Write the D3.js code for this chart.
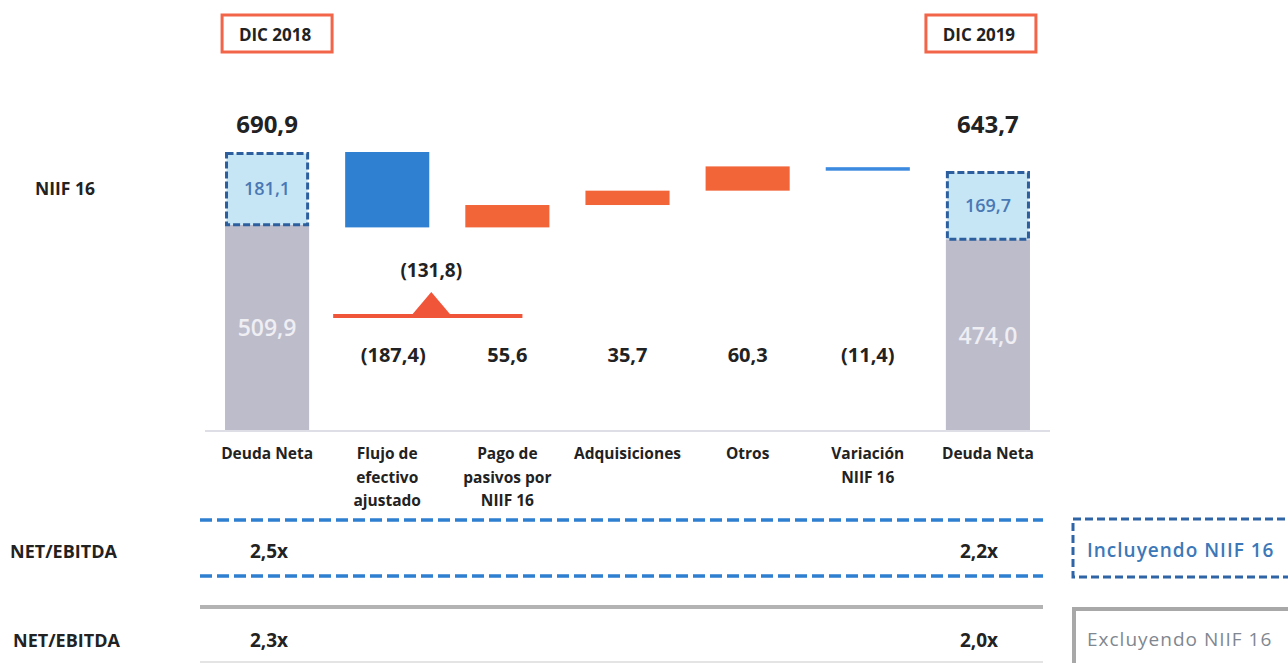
<!DOCTYPE html>
<html>
<head>
<meta charset="utf-8">
<script src="https://cdn.jsdelivr.net/npm/d3@7"></script>
<style>
  body { margin: 0; background: #fff; }
  svg { font-family: "Open Sans", Lato, sans-serif; }
</style>
</head>
<body>
<div class="chart"></div>
<script>
var svgWidth = 1288;
var svgHeight = 663;

// data
var categories = ["Deuda Neta 2018", "Flujo de efectivo ajustado", "Pago de pasivos por NIIF 16",
  "Adquisiciones", "Otros", "Variación NIIF 16", "Deuda Neta 2019"];
var categoryLabels = [["Deuda Neta"], ["Flujo de", "efectivo", "ajustado"], ["Pago de", "pasivos por", "NIIF 16"],
  ["Adquisiciones"], ["Otros"], ["Variación", "NIIF 16"], ["Deuda Neta"]];
var changes = [null, -187.4, 55.6, 35.7, 60.3, -11.4, null];
var changeLabels = ["", "(187,4)", "55,6", "35,7", "60,3", "(11,4)", ""];
var totalNiif = [181.1, 169.7];
var totalExNiif = [509.9, 474.0];
var totalLabels = ["690,9", "643,7"];
var niifLabels = ["181,1", "169,7"];
var exNiifLabels = ["509,9", "474,0"];
var periodLabels = ["DIC 2018", "DIC 2019"];
var ratioIncl = ["2,5x", "2,2x"];
var ratioExcl = ["2,3x", "2,0x"];
var annotationLabel = "(131,8)";

var svg = d3.select(".chart")
  .append("svg")
  .attr("width", svgWidth)
  .attr("height", svgHeight);

// scales
var x = d3.scaleBand()
  .domain(categories)
  .range([207, 1048])
  .paddingInner(0.3)
  .paddingOuter(0.15);

var y = d3.scaleLinear()
  .domain([0, totalNiif[0] + totalExNiif[0]])
  .range([430, 152]);

// build waterfall steps
var running = totalNiif[0] + totalExNiif[0];
var steps = [];
changes.forEach(function(c, i) {
  if (c === null) return;
  var start = running;
  running = running + c;
  steps.push({ cat: categories[i], start: start, end: running, value: c, label: changeLabels[i] });
});

var totals = [
  { cat: categories[0], niif: totalNiif[0], ex: totalExNiif[0] },
  { cat: categories[6], niif: totalNiif[1], ex: totalExNiif[1] }
];

// axis baseline
svg.append("line")
  .attr("x1", 205).attr("x2", 1050)
  .attr("y1", y(0) + 1).attr("y2", y(0) + 1)
  .attr("stroke", "#d3d3de")
  .attr("stroke-width", 1.5);

// total bars: gray part excluding NIIF
svg.selectAll(".ex")
  .data(totals)
  .enter()
  .append("rect")
  .attr("class", "ex")
  .attr("x", d => x(d.cat))
  .attr("width", x.bandwidth())
  .attr("y", d => y(d.ex))
  .attr("height", d => y(0) - y(d.ex))
  .attr("fill", "#bdbccb");

// NIIF part, dashed box
svg.selectAll(".niif")
  .data(totals)
  .enter()
  .append("rect")
  .attr("class", "niif")
  .attr("x", d => x(d.cat) + 1.5)
  .attr("width", x.bandwidth() - 3)
  .attr("y", d => y(d.ex + d.niif) + 1.5)
  .attr("height", d => y(d.ex) - y(d.ex + d.niif) - 1.5)
  .attr("fill", "#c6e6f5")
  .attr("stroke", "#2d5f9e")
  .attr("stroke-width", 3)
  .attr("stroke-dasharray", "7,3");

// step bars
svg.selectAll(".step")
  .data(steps)
  .enter()
  .append("rect")
  .attr("class", "step")
  .attr("x", d => x(d.cat))
  .attr("width", x.bandwidth())
  .attr("y", d => y(Math.max(d.start, d.end)))
  .attr("height", d => Math.abs(y(d.start) - y(d.end)))
  .attr("fill", d => d.cat === categories[1] ? "#2f80d1" : "#f26539");

// variación NIIF 16 shown as thin blue line
svg.selectAll(".step")
  .filter(d => d.cat === categories[5])
  .attr("fill", "#3b8ae0")
  .attr("y", d => (y(d.start) + y(d.end)) / 2 - 1.5)
  .attr("height", 3.5);

// step value labels
svg.selectAll(".stepLabel")
  .data(steps)
  .enter()
  .append("text")
  .attr("x", d => x(d.cat) + x.bandwidth() / 2 + (d.value === changes[1] ? 6 : 0))
  .attr("y", 362)
  .attr("text-anchor", "middle")
  .attr("font-size", 20)
  .attr("font-weight", "bold")
  .attr("fill", "#222")
  .text(d => d.label);

// total labels
svg.selectAll(".totLabel")
  .data(totals)
  .enter()
  .append("text")
  .attr("x", d => x(d.cat) + x.bandwidth() / 2)
  .attr("y", 133)
  .attr("text-anchor", "middle")
  .attr("font-size", 24)
  .attr("font-weight", "bold")
  .attr("fill", "#222")
  .text((d, i) => totalLabels[i]);

svg.selectAll(".niifLabel")
  .data(totals)
  .enter()
  .append("text")
  .attr("x", d => x(d.cat) + x.bandwidth() / 2)
  .attr("y", d => (y(d.ex) + y(d.ex + d.niif)) / 2 + 7)
  .attr("text-anchor", "middle")
  .attr("font-size", 18)
  .attr("font-weight", 600)
  .attr("fill", "#4a78b4")
  .text((d, i) => niifLabels[i]);

svg.selectAll(".exLabel")
  .data(totals)
  .enter()
  .append("text")
  .attr("x", d => x(d.cat) + x.bandwidth() / 2)
  .attr("y", d => (y(0) + y(d.ex)) / 2 + 9)
  .attr("text-anchor", "middle")
  .attr("font-size", 23)
  .attr("font-weight", 600)
  .attr("fill", "#eeeef3")
  .text((d, i) => exNiifLabels[i]);

// category labels
var catText = svg.selectAll(".cat")
  .data(categories)
  .enter()
  .append("text")
  .attr("x", d => x(d) + x.bandwidth() / 2)
  .attr("y", 459)
  .attr("text-anchor", "middle")
  .attr("font-size", 15.5)
  .attr("font-weight", "bold")
  .attr("fill", "#222");

catText.selectAll("tspan")
  .data((d, i) => categoryLabels[i])
  .enter()
  .append("tspan")
  .attr("x", function() { return d3.select(this.parentNode).attr("x"); })
  .attr("dy", (d, i) => i === 0 ? 0 : 23.5)
  .text(d => d);

// period boxes
var periodCats = [categories[0], categories[6]];
var periodShift = [10, -7];
periodCats.forEach(function(c, i) {
  var cx = x(c) + x.bandwidth() / 2 + periodShift[i];
  svg.append("rect")
    .attr("x", cx - 55)
    .attr("y", 15)
    .attr("width", 110)
    .attr("height", 37)
    .attr("fill", "none")
    .attr("stroke", "#f26549")
    .attr("stroke-width", 3);
  svg.append("text")
    .attr("x", cx - 2)
    .attr("y", 41)
    .attr("text-anchor", "middle")
    .attr("font-size", 17)
    .attr("font-weight", "bold")
    .attr("fill", "#222")
    .text(periodLabels[i]);
});

// NIIF 16 row label
svg.append("text")
  .attr("x", 35).attr("y", 195)
  .attr("font-size", 17.5)
  .attr("font-weight", "bold")
  .attr("fill", "#222")
  .text("NIIF 16");

// annotation: line with triangle
var ax0 = x(categories[1]) - 12;
var ax1 = x(categories[2]) + x.bandwidth() - 27;
var acx = (x(categories[1]) + x(categories[2]) + x.bandwidth()) / 2 - 16;
svg.append("line")
  .attr("x1", ax0).attr("x2", ax1)
  .attr("y1", 316).attr("y2", 316)
  .attr("stroke", "#f0553a")
  .attr("stroke-width", 4);
svg.append("path")
  .attr("d", `M${acx - 22},318 L${acx},292 L${acx + 22},318 Z`)
  .attr("fill", "#f0553a");
svg.append("text")
  .attr("x", acx).attr("y", 277)
  .attr("text-anchor", "middle")
  .attr("font-size", 19)
  .attr("font-weight", "bold")
  .attr("fill", "#222")
  .text(annotationLabel);

// ratio rows
var rowX0 = 200, rowX1 = 1043;
[520, 576].forEach(function(yy) {
  svg.append("line")
    .attr("x1", rowX0).attr("x2", rowX1)
    .attr("y1", yy).attr("y2", yy)
    .attr("stroke", "#2f7fd0")
    .attr("stroke-width", 3.5)
    .attr("stroke-dasharray", "12,5");
});
svg.append("line")
  .attr("x1", rowX0).attr("x2", rowX1)
  .attr("y1", 607).attr("y2", 607)
  .attr("stroke", "#b3b3b3")
  .attr("stroke-width", 4);
svg.append("line")
  .attr("x1", rowX0).attr("x2", rowX1)
  .attr("y1", 662).attr("y2", 662)
  .attr("stroke", "#e4e4e4")
  .attr("stroke-width", 2);

svg.append("text")
  .attr("x", 10).attr("y", 558)
  .attr("font-size", 18).attr("font-weight", "bold").attr("fill", "#222")
  .text("NET/EBITDA");
svg.append("text")
  .attr("x", 13).attr("y", 647)
  .attr("font-size", 18).attr("font-weight", "bold").attr("fill", "#222")
  .text("NET/EBITDA");

[ratioIncl, ratioExcl].forEach(function(arr, r) {
  svg.selectAll(".ratio" + r)
    .data(arr)
    .enter()
    .append("text")
    .attr("x", (d, i) => i === 0 ? 269 : 979)
    .attr("y", r === 0 ? 558 : 647)
    .attr("text-anchor", "middle")
    .attr("font-size", 19)
    .attr("font-weight", "bold")
    .attr("fill", "#222")
    .text(d => d);
});

// legend boxes
svg.append("rect")
  .attr("x", 1073).attr("y", 519)
  .attr("width", 230).attr("height", 58)
  .attr("fill", "none")
  .attr("stroke", "#2f64a6")
  .attr("stroke-width", 3)
  .attr("stroke-dasharray", "8,4");
svg.append("text")
  .attr("x", 1087).attr("y", 557)
  .attr("font-size", 19)
  .attr("font-weight", 600)
  .attr("letter-spacing", 1)
  .attr("fill", "#3c78b8")
  .text("Incluyendo NIIF 16");

svg.append("rect")
  .attr("x", 1074).attr("y", 609)
  .attr("width", 230).attr("height", 70)
  .attr("fill", "none")
  .attr("stroke", "#a8a8a8")
  .attr("stroke-width", 4);
svg.append("text")
  .attr("x", 1087).attr("y", 646)
  .attr("font-size", 19)
  .attr("letter-spacing", 1)
  .attr("fill", "#7f8790")
  .text("Excluyendo NIIF 16");
</script>
</body>
</html>
